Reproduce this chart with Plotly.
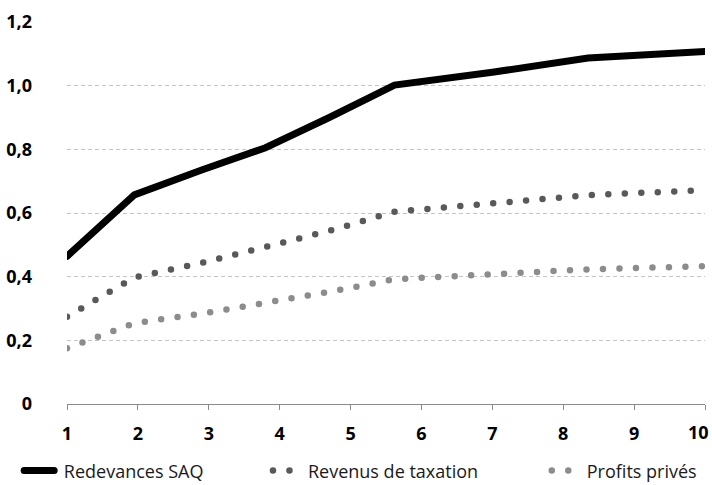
import plotly.graph_objects as go

# Readings along the horizontal axis
x_vals = [1, 1.95, 2.9, 3.8, 4.7, 5.62, 7.0, 8.35, 10]

redevances_saq = [0.464, 0.657, 0.735, 0.805, 0.900, 1.002, 1.042, 1.087, 1.107]
revenus_taxation = [0.274, 0.398, 0.443, 0.491, 0.544, 0.604, 0.630, 0.656, 0.672]
profits_prives = [0.175, 0.254, 0.284, 0.318, 0.352, 0.392, 0.410, 0.423, 0.433]

x_ticks = list(range(1, 11))
x_tick_text = [str(v) for v in x_ticks]
y_ticks = [0, 0.2, 0.4, 0.6, 0.8, 1.0, 1.2]
y_tick_text = ["0", "0,2", "0,4", "0,6", "0,8", "1,0", "1,2"]

FONT = "Open Sans"
TICK_FONT = dict(family=FONT, size=18, color="#000000", weight="bold")

fig = go.Figure()
fig.add_trace(go.Scatter(
    x=x_vals, y=redevances_saq, mode="lines", name="\u00a0Redevances SAQ",
    line=dict(color="#000000", width=7), cliponaxis=False, legend="legend",
))
fig.add_trace(go.Scatter(
    x=x_vals, y=revenus_taxation, mode="lines", name="Revenus de taxation",
    line=dict(color="#595959", width=6.5, dash="0px,16.5px"), cliponaxis=False,
    legend="legend2",
))
fig.add_trace(go.Scatter(
    x=x_vals, y=profits_prives, mode="lines", name="Profits privés",
    line=dict(color="#8c8c8c", width=6.5, dash="0px,16.5px"), cliponaxis=False,
    legend="legend3",
))

legend_common = dict(
    orientation="h", yanchor="middle", y=-0.175, xanchor="left",
    font=dict(family=FONT, size=18, color="#1a1a1a"),
    bgcolor="rgba(0,0,0,0)", itemwidth=30,
)

# the last category label is drawn right-aligned so it stays inside the page
shown_tick_text = x_tick_text[:-1] + [""]
fig.add_annotation(
    x=x_ticks[-1], xref="x", y=0, yref="paper",
    text=x_tick_text[-1], showarrow=False,
    xanchor="right", yanchor="middle", xshift=6, yshift=-28,
    font=TICK_FONT,
)

fig.update_layout(
    width=712, height=485,
    margin=dict(l=67, r=7, t=22, b=81, autoexpand=False),
    paper_bgcolor="white", plot_bgcolor="white",
    showlegend=True,
    legend=dict(x=-0.075, **legend_common),
    legend2=dict(x=0.315, **legend_common),
    legend3=dict(x=0.752, **legend_common),
    xaxis=dict(
        range=[1, 10], tickvals=x_ticks, ticktext=shown_tick_text,
        showgrid=False, zeroline=False,
        showline=True, linecolor="#8a8a8a", linewidth=1,
        ticks="outside", ticklen=5, tickcolor="#8a8a8a", tickwidth=1,
        ticklabelstandoff=8, ticklabeloverflow="allow",
        tickfont=TICK_FONT,
    ),
    yaxis=dict(
        range=[0, 1.2], tickvals=y_ticks, ticktext=y_tick_text,
        showgrid=True, gridcolor="#c4c4c4", gridwidth=1, griddash="4px,3px",
        zeroline=False, showline=False, ticks="",
        ticklabelstandoff=34, ticklabeloverflow="allow",
        tickfont=TICK_FONT,
    ),
)

# Round line caps so the dotted series render as round dots
post = """
document.querySelectorAll('.scatterlayer path.js-line, .legendlines path').forEach(function(p){
  p.style.strokeLinecap = 'round';
});
"""

fig.write_html("out.html", post_script=post)
